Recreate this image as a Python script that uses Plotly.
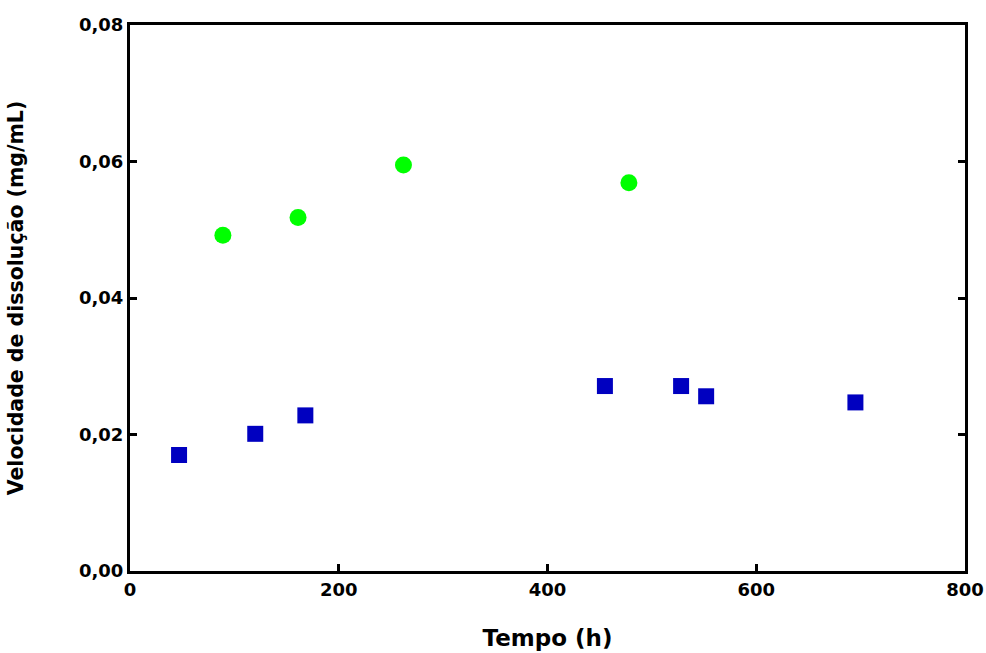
import plotly.graph_objects as go

# Data
green_x = [89, 161, 262, 478]
green_y = [0.0492, 0.0518, 0.0595, 0.0569]

blue_x = [47, 120, 168, 455, 528, 552, 695]
blue_y = [0.0170, 0.0201, 0.0228, 0.0271, 0.0271, 0.0256, 0.0247]

x_ticks = [0, 200, 400, 600, 800]
y_ticks = [0.00, 0.02, 0.04, 0.06, 0.08]

FONT = "DejaVu Sans, Liberation Sans, Arial, sans-serif"

fig = go.Figure()
fig.add_trace(go.Scatter(
    x=green_x, y=green_y, mode="markers",
    marker=dict(symbol="circle", size=17, color="#00ff00", line=dict(width=0)),
    showlegend=False, cliponaxis=False))
fig.add_trace(go.Scatter(
    x=blue_x, y=blue_y, mode="markers",
    marker=dict(symbol="square", size=16, color="#0000c0", line=dict(width=0)),
    showlegend=False, cliponaxis=False))

fig.update_layout(
    width=986, height=653,
    margin=dict(l=130, r=21, t=25, b=82),
    paper_bgcolor="white", plot_bgcolor="white",
    separators=",.",
    font=dict(family=FONT, color="black"),
    xaxis=dict(
        range=[0, 800], tickvals=x_ticks, ticks="inside", ticklen=7, tickwidth=3,
        tickcolor="black", showline=True, linecolor="black", linewidth=3,
        mirror=True, showgrid=False, zeroline=False, automargin=False,
        tickfont=dict(size=18, family=FONT, weight="bold"),
        title=dict(text="<b>Tempo (h)</b>", font=dict(size=23, family=FONT), standoff=32),
    ),
    yaxis=dict(
        range=[0, 0.08], tickvals=y_ticks, tickformat=".2f", ticks="inside",
        ticklen=7, tickwidth=3, tickcolor="black", showline=True,
        linecolor="black", linewidth=3, mirror="ticks", showgrid=False,
        zeroline=False, automargin=False,
        tickfont=dict(size=18, family=FONT, weight="bold"),
        title=dict(text="<b>Velocidade de dissolução (mg/mL)</b>",
                   font=dict(size=20.5, family=FONT), standoff=50),
    ),
)

fig.write_html("out.html", config={"displayModeBar": False},
               post_script="document.body.style.margin='0';")
